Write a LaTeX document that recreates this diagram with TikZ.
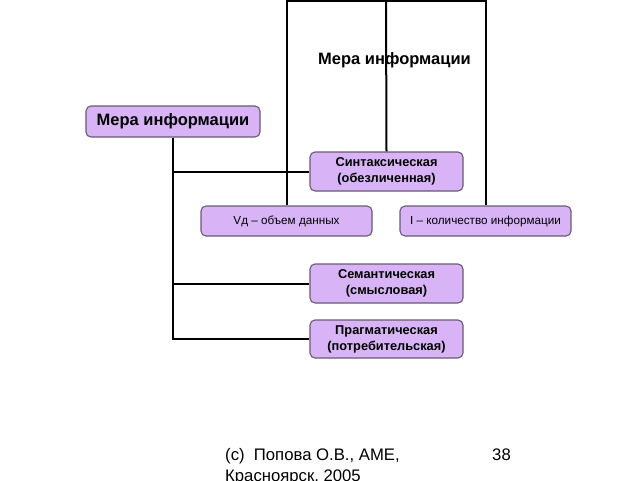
\documentclass[tikz,border=0pt]{standalone}
\usepackage{fontspec}
\setmainfont{Liberation Sans}
\definecolor{boxfill}{RGB}{216,180,246}
\definecolor{boxdraw}{RGB}{105,90,115}
\begin{document}
\begin{tikzpicture}[x=1pt,y=-1pt,
  box/.style={draw=boxdraw,line width=1.1pt,fill=boxfill,rounded corners=5pt,align=center,inner sep=0pt},
  conn/.style={line width=2pt,black}]
\useasboundingbox (0,0) rectangle (640,480);
% frame
\coordinate (ftl) at (287,1);
\coordinate (ftr) at (486,1);
\coordinate (ftc) at (386,1);
% nodes
\node[box,minimum width=174pt,minimum height=31pt,font=\bfseries\fontsize{16.5}{18}\selectfont] (root) at (173,121.5) {Мера информации};
\node[box,minimum width=153pt,minimum height=39pt,font=\bfseries\fontsize{12.8}{16}\selectfont] (syn) at (386.5,171.5) {Синтаксическая\\(обезличенная)};
\node[box,minimum width=171pt,minimum height=30pt,font=\fontsize{11.7}{13}\selectfont] (vd) at (286.5,221) {Vд – объем данных};
\node[box,minimum width=171pt,minimum height=30pt,font=\fontsize{11.7}{13}\selectfont] (ii) at (485.5,221) {I – количество информации};
\node[box,minimum width=153pt,minimum height=39pt,font=\bfseries\fontsize{12.8}{16}\selectfont] (sem) at (386.5,283.5) {Семантическая\\(смысловая)};
\node[box,minimum width=153pt,minimum height=38pt,font=\bfseries\fontsize{12.8}{16}\selectfont] (prag) at (386.5,339) {Прагматическая\\(потребительская)};
% frame lines
\draw[conn] (vd.north) -- (vd.north |- ftl) -- (ii.north |- ftr) -- (ii.north);
\draw[conn] (ftc) -- (syn.north);
\node[font=\bfseries\fontsize{16.5}{18}\selectfont] (title) at (394.5,60) {Мера информации};
% tree connectors
\coordinate (bot) at (173,339);
\draw[conn] (root.south) -- (bot) -- (prag.west);
\draw[conn] (root.south |- syn.west) -- (syn.west);
\draw[conn] (root.south |- sem.west) -- (sem.west);
% footer
\node[anchor=base west,font=\fontsize{16.7}{20}\selectfont,inner sep=0pt,align=left] (foot) at (225,460) {(c)\ \ Попова О.В., АМЕ,};
\node[anchor=base west,font=\fontsize{16.7}{20}\selectfont,inner sep=0pt] (foot2) at (225,481) {Красноярск, 2005};
\node[anchor=base east,font=\fontsize{16.7}{20}\selectfont,inner sep=0pt] (page) at (511,460) {38};
\end{tikzpicture}
\end{document}
